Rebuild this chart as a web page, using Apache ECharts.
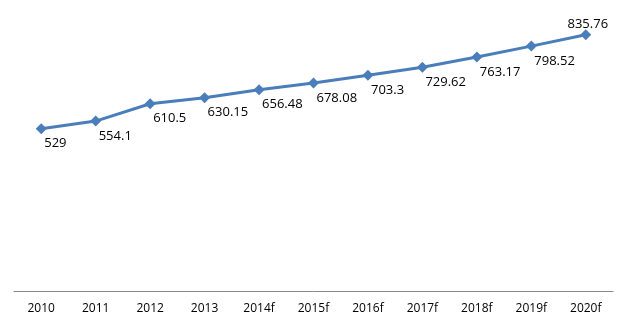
<!DOCTYPE html>
<html><head><meta charset="utf-8">
<script src="https://cdn.jsdelivr.net/npm/echarts@6/dist/echarts.min.js"></script>
<style>html,body{margin:0;padding:0;background:#fff}#c{width:628px;height:325px}</style>
</head><body><div id="c"></div>
<script>
const categories = ['2010','2011','2012','2013','2014f','2015f','2016f','2017f','2018f','2019f','2020f'];
const values = [529, 554.1, 610.5, 630.15, 656.48, 678.08, 703.3, 729.62, 763.17, 798.52, 835.76];
const labelAbove = [false,false,false,false,false,false,false,false,false,false,true];

const chart = echarts.init(document.getElementById('c'));
const font = 'Open Sans, Liberation Sans, sans-serif';
chart.setOption({
  animation: false,
  grid: {left: 14, right: 15, top: 15, bottom: 34},
  xAxis: {
    type: 'category', data: categories, boundaryGap: true,
    axisLine: {lineStyle: {color: '#888', width: 1}},
    axisTick: {show: false},
    axisLabel: {color: '#000', fontSize: 12, fontFamily: font, margin: 12}
  },
  yAxis: {type: 'value', min: 0, max: 900, show: false, splitLine: {show: false}},
  series: [{
    type: 'line',
    data: values.map((v, i) => labelAbove[i]
      ? {value: v, label: {position: 'top', align: 'center', offset: [2, 6], distance: 4}}
      : v),
    symbol: 'diamond', symbolSize: 11,
    lineStyle: {color: '#4a7ebb', width: 3},
    itemStyle: {color: '#4a7ebb'},
    label: {show: true, position: 'bottom', align: 'left', offset: [3, 0], distance: 3,
      color: '#000', fontSize: 13, fontFamily: font}
  }]
});
</script></body></html>
